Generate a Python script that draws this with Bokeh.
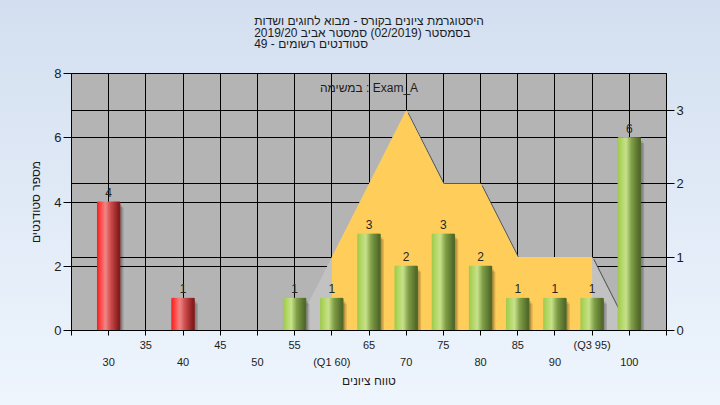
from bokeh.plotting import figure
from bokeh.models import Range1d, LinearAxis, FixedTicker, Grid, ColumnDataSource, Title
from bokeh.core.properties import value
from bokeh.embed import file_html
from bokeh.resources import INLINE

# ---------------- data ----------------
grades = [30, 40, 55, 60, 65, 70, 75, 80, 85, 90, 95, 100]
counts = [4, 1, 1, 1, 3, 2, 3, 2, 1, 1, 1, 6]
failing = [True, True, False, False, False, False, False, False, False, False, False, False]

curve_x = [55, 60, 65, 70, 75, 80, 85, 90, 95, 100]
curve_y = [0, 1, 2, 3, 2, 2, 1, 1, 1, 0]
q1 = 60
q3 = 95

x_ticks = [25, 30, 35, 40, 45, 50, 55, 60, 65, 70, 75, 80, 85, 90, 95, 100, 105]
upper_labels = {35: "35", 45: "45", 55: "55", 65: "65", 75: "75", 85: "85", 95: "(Q3 95)"}
lower_ticks = [30, 40, 50, 60, 70, 80, 90, 100]
lower_labels = {30: "30", 40: "40", 50: "50", 60: "(Q1 60)", 70: "70", 80: "80", 90: "90", 100: "100"}
left_ticks = [0, 2, 4, 6, 8]
right_ticks = [0, 1, 2, 3]
right_grid_ticks = [1, 2, 3]

title_lines = [
    "היסטוגרמת ציונים בקורס - מבוא לחוגים ושדות",
    "בסמסטר  (02/2019)  סמסטר אביב 2019/20",
    "סטודנטים רשומים - 49",
]
note_text = "במשימה : Exam_A"
x_label = "טווח ציונים"
y_label = "מספר סטודנטים"

# ---------------- helpers ----------------
RLM = "\u200f"


def rtl(s):
    return RLM + s + RLM


def lerp_stops(stops, t):
    for (t0, c0), (t1, c1) in zip(stops[:-1], stops[1:]):
        if t0 <= t <= t1:
            f = (t - t0) / (t1 - t0) if t1 > t0 else 0
            c = [round(a + (b - a) * f) for a, b in zip(c0, c1)]
            return "#%02x%02x%02x" % tuple(c)
    return "#%02x%02x%02x" % tuple(stops[-1][1])


RED = [(0.0, (236, 30, 30)), (0.12, (255, 60, 60)), (0.38, (240, 135, 135)),
       (0.62, (205, 75, 75)), (1.0, (128, 24, 24))]
GREEN = [(0.0, (158, 200, 78)), (0.12, (172, 212, 92)), (0.38, (200, 226, 140)),
         (0.62, (128, 160, 72)), (1.0, (78, 102, 40))]

FONT = "Liberation Sans"
TXT = "#1c1c1c"


def spacer(px):
    return Title(text=" ", text_font_size="1px", standoff=px)


# ---------------- figure ----------------
x0, x1 = x_ticks[0], x_ticks[-1]
p = figure(width=720, height=405, x_range=Range1d(x0, x1), y_range=Range1d(left_ticks[0], left_ticks[-1]),
           output_backend="svg", toolbar_location=None,
           min_border=0, min_border_left=0, min_border_right=0, min_border_top=0, min_border_bottom=0)
p.extra_y_ranges = {"right": Range1d(0, 3.5)}
p.background_fill_color = "#b4b4b4"
p.border_fill_alpha = 0
p.outline_line_color = "black"
p.outline_line_alpha = 1

# title (spacer nearest to the frame, then the three lines, then top spacer)
p.add_layout(spacer(19), "above")
p.add_layout(Title(text="\n".join(rtl(s) for s in title_lines), align="center", text_font=FONT,
                   text_font_size="12px", text_font_style="normal", text_color=TXT,
                   text_line_height=0.85, standoff=0), "above")
p.add_layout(spacer(8), "above")

# axes
xa = p.xaxis[0]
xa.ticker = FixedTicker(ticks=x_ticks)
xa.major_label_overrides = {k: upper_labels.get(k, "") for k in x_ticks}
xa.major_tick_out = 5
xa.major_tick_in = 0
xa.minor_tick_line_color = None
xa.major_label_standoff = 3
xa.axis_line_color = "black"
xa.major_tick_line_color = "black"
xa.major_label_text_font = FONT
xa.major_label_text_font_size = "11px"
xa.major_label_text_color = TXT

xa2 = LinearAxis(ticker=FixedTicker(ticks=lower_ticks), major_label_overrides=lower_labels,
                 major_tick_out=0, major_tick_in=0, minor_tick_line_color=None,
                 axis_line_color=None, major_tick_line_color=None, major_label_standoff=2,
                 major_label_text_font=FONT, major_label_text_font_size="11px",
                 major_label_text_color=TXT,
                 axis_label=rtl(x_label), axis_label_standoff=3, axis_label_text_font=FONT,
                 axis_label_text_font_size="12px", axis_label_text_font_style="normal",
                 axis_label_text_color=TXT)
p.add_layout(xa2, "below")
p.add_layout(spacer(12), "below")

ya = p.yaxis[0]
ya.ticker = FixedTicker(ticks=left_ticks)
ya.major_tick_out = 8
ya.major_tick_in = 0
ya.minor_tick_line_color = None
ya.major_label_standoff = 2
ya.axis_line_color = "black"
ya.major_tick_line_color = "black"
ya.major_label_text_font = FONT
ya.major_label_text_font_size = "13px"
ya.major_label_text_color = TXT
p.add_layout(Title(text=rtl(y_label), align="center", text_font=FONT, text_font_size="12px",
                   text_font_style="normal", text_color=TXT, standoff=17), "left")
p.add_layout(spacer(15), "left")

yr = LinearAxis(y_range_name="right", ticker=FixedTicker(ticks=right_ticks),
                major_tick_out=8, major_tick_in=0, minor_tick_line_color=None,
                major_label_standoff=2, axis_line_color="black", major_tick_line_color="black",
                major_label_text_font=FONT, major_label_text_font_size="13px",
                major_label_text_color=TXT)
p.add_layout(yr, "right")
p.add_layout(spacer(31), "right")

# grids
p.xgrid[0].ticker = FixedTicker(ticks=x_ticks)
p.xgrid[0].grid_line_color = "black"
p.xgrid[0].grid_line_alpha = 1
p.ygrid[0].ticker = FixedTicker(ticks=left_ticks)
p.ygrid[0].grid_line_color = "black"
p.ygrid[0].grid_line_alpha = 1
rg = Grid(dimension=1, y_range_name="right", ticker=FixedTicker(ticks=right_grid_ticks),
          grid_line_color="black", grid_line_alpha=1)
p.add_layout(rg, "center")

# ---------------- distribution area (right axis) ----------------
dx, dy = 0.3, 0.03
p.patch([x + dx for x in curve_x], [y - dy for y in curve_y], y_range_name="right",
        fill_color="#4a4a4a", fill_alpha=0.9, line_color=None)
p.patch(curve_x, curve_y, y_range_name="right", fill_color="#c2c2c2", line_color=None)
in_x = [x for x in curve_x if q1 <= x <= q3]
in_y = [y for x, y in zip(curve_x, curve_y) if q1 <= x <= q3]
p.patch([q1] + in_x + [q3], [0] + in_y + [0], y_range_name="right",
        fill_color="#ffcd5a", line_color=None)

# ---------------- bars ----------------
bw = 3.0
p.vbar(x=[g + 0.5 for g in grades], top=[c - 0.16 for c in counts], width=bw, bottom=0,
       fill_color="black", fill_alpha=0.14, line_color=None)
p.vbar(x=[g + 0.3 for g in grades], top=[c - 0.1 for c in counts], width=bw, bottom=0,
       fill_color="black", fill_alpha=0.16, line_color=None)

N = 22
sx, stop, scol = [], [], []
for g, c, f in zip(grades, counts, failing):
    stops = RED if f else GREEN
    for j in range(N):
        tpos = (j + 0.5) / N
        sx.append(g - bw / 2 + tpos * bw)
        stop.append(c)
        scol.append(lerp_stops(stops, tpos))
p.vbar(x="x", top="top", bottom=0, width=bw / N * 1.08, color="color",
       source=ColumnDataSource(dict(x=sx, top=stop, color=scol)))

# value labels
p.text(x=grades, y=counts, text=[str(c) for c in counts], text_align="center",
       text_baseline="bottom", y_offset=-5, text_font=value(FONT),
       text_font_size="12px", text_color="#262626")

# note
p.text(x=[(x0 + x1) / 2], y=[left_ticks[-1]], text=[note_text], text_align="center",
       text_baseline="top", y_offset=7, text_font=value(FONT), text_font_size="12px",
       text_color=TXT)

template = """
{% block postamble %}
<style>
html { background: linear-gradient(180deg, #d3dff0 0%, #eef5fd 100%); min-height: 100%; }
body { margin: 0; padding: 0; background: transparent; }
</style>
{% endblock %}
"""

open("out.html", "w").write(file_html(p, INLINE, title="histogram", template=template))
